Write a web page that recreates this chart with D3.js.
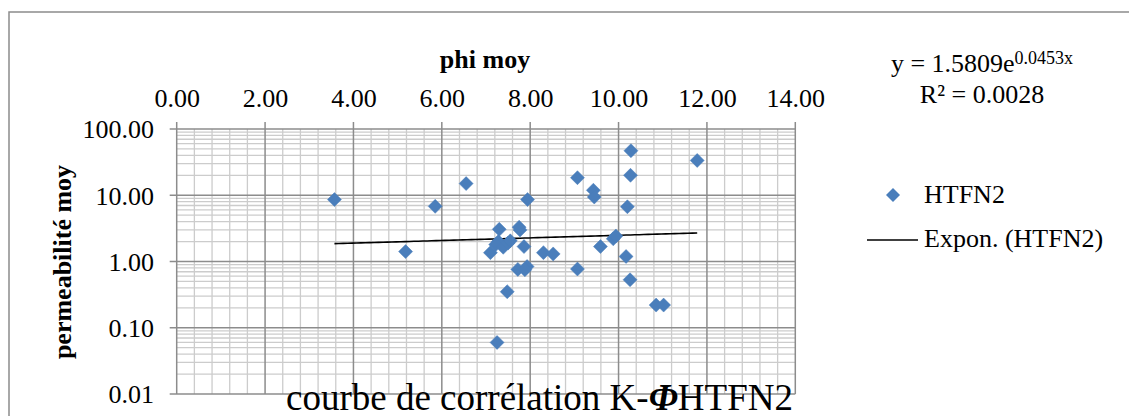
<!DOCTYPE html>
<html>
<head>
<meta charset="utf-8">
<script src="https://cdn.jsdelivr.net/npm/d3@7"></script>
<style>
html,body{margin:0;padding:0;background:#fff;}
svg{display:block;font-family:"Liberation Serif","Times New Roman",serif;}
</style>
</head>
<body>
<svg id="c" width="1129" height="416"></svg>
<script>
const phi  = [3.57,5.18,5.85,6.55,7.10,7.25,7.30,7.28,7.22,7.39,7.50,7.55,7.48,7.75,7.77,7.86,7.72,7.93,7.88,7.94,8.30,8.52,9.07,9.07,9.43,9.45,9.59,9.88,9.94,10.17,10.20,10.26,10.27,10.28,10.85,11.02,11.78];
const perm = [8.6,1.41,6.8,15,1.36,0.06,3.06,2.0,1.8,1.64,1.9,2.05,0.35,3.3,3.0,1.68,0.76,0.84,0.75,8.6,1.36,1.30,18.4,0.77,11.9,9.4,1.68,2.2,2.43,1.19,6.7,0.53,20,47,0.22,0.22,33.5];
const xTicks = [0,2,4,6,8,10,12,14];
const yTicks = [0.01,0.1,1,10,100];
const fitA = 1.5809, fitB = 0.0453;
const seriesName = "HTFN2";

const svg = d3.select("#c");
const x = d3.scaleLinear().domain([0,14]).range([176.7,795.3]);
const y = d3.scaleLog().domain([0.01,100]).range([394,129]);

// border
svg.append("rect").attr("x",9).attr("y",12).attr("width",1200).attr("height",500)
  .attr("fill","none").attr("stroke","#8c8c8c").attr("stroke-width",1.5);

const g = svg.append("g");
// minor vertical gridlines
const xMinor = d3.range(0,14.0001,0.4).filter(v=>Math.abs(v/2-Math.round(v/2))>1e-6);
g.selectAll(".vmin").data(xMinor).enter().append("line")
  .attr("x1",d=>x(d)).attr("x2",d=>x(d)).attr("y1",y(100)).attr("y2",y(0.01))
  .attr("stroke","#cccccc").attr("stroke-width",1.3);
// minor horizontal
const yMinor = [];
[0.01,0.1,1,10].forEach(dec=>{for(let k=2;k<=9;k++) yMinor.push(dec*k);});
g.selectAll(".hmin").data(yMinor).enter().append("line")
  .attr("x1",x(0)).attr("x2",x(14)).attr("y1",d=>y(d)).attr("y2",d=>y(d))
  .attr("stroke","#cccccc").attr("stroke-width",1.3);
// major
g.selectAll(".vmaj").data(xTicks).enter().append("line")
  .attr("x1",d=>x(d)).attr("x2",d=>x(d)).attr("y1",y(100)-7).attr("y2",y(0.01))
  .attr("stroke","#8c8c8c").attr("stroke-width",1.5);
g.selectAll(".hmaj").data(yTicks).enter().append("line")
  .attr("x1",x(0)-7).attr("x2",x(14)).attr("y1",d=>y(d)).attr("y2",d=>y(d))
  .attr("stroke","#8c8c8c").attr("stroke-width",1.5);

// axes labels via d3 axes
const xAxis = d3.axisTop(x).tickValues(xTicks).tickFormat(d3.format(".2f")).tickSize(0).tickPadding(0);
const xa = svg.append("g").attr("transform","translate(0,106.5)").call(xAxis);
xa.select(".domain").remove();
xa.selectAll("text").attr("font-size",26).attr("fill","#000").attr("font-family","Liberation Serif").attr("dy",0);

const yAxis = d3.axisLeft(y).tickValues(yTicks).tickFormat(d3.format(".2f")).tickSize(0).tickPadding(0);
const ya = svg.append("g").attr("transform","translate(154,0)").call(yAxis);
ya.select(".domain").remove();
ya.selectAll("text").attr("font-size",26).attr("fill","#000").attr("font-family","Liberation Serif").attr("dy","0.34em");

// trendline
const tx = d3.range(d3.min(phi), d3.max(phi)+0.001, 0.1);
tx.push(d3.max(phi));
const line = d3.line().x(d=>x(d)).y(d=>y(fitA*Math.exp(fitB*d)));
svg.append("path").datum(tx).attr("d",line).attr("fill","none").attr("stroke","#000").attr("stroke-width",1.6);

// points
const sym = d3.symbol().type(d3.symbolDiamond2 || d3.symbolDiamond).size(100);
const diamond = s => `M0,${-s}L${s},0L0,${s}L${-s},0Z`;
svg.selectAll(".pt").data(phi.map((p,i)=>[p,perm[i]])).enter().append("path")
  .attr("d",diamond(7)).attr("transform",d=>`translate(${x(d[0])},${y(d[1])})`)
  .attr("fill","#4a7ebb").attr("stroke","#4a7ebb").attr("stroke-width",0.5);

// axis titles
svg.append("text").attr("x",485).attr("y",68).attr("text-anchor","middle")
  .attr("font-size",26).attr("font-weight","bold").text("phi moy");
svg.append("text").attr("transform","translate(71,262) rotate(-90)").attr("text-anchor","middle")
  .attr("font-size",26).attr("font-weight","bold").text("permeabilité moy");

// equation
const eq = svg.append("text").attr("x",982).attr("y",71.7).attr("text-anchor","middle").attr("font-size",26);
eq.append("tspan").text("y = 1.5809e");
eq.append("tspan").attr("font-size",18).attr("dy",-8).text("0.0453x");
svg.append("text").attr("x",982).attr("y",103).attr("text-anchor","middle").attr("font-size",26).text("R² = 0.0028");

// legend
svg.append("path").attr("d",diamond(7)).attr("transform","translate(893,195)").attr("fill","#4a7ebb");
svg.append("text").attr("x",924).attr("y",203).attr("font-size",26).text(seriesName);
svg.append("line").attr("x1",867).attr("x2",918).attr("y1",240).attr("y2",240).attr("stroke","#000").attr("stroke-width",1.6);
svg.append("text").attr("x",924).attr("y",247).attr("font-size",26).text("Expon. (" + seriesName + ")");

// title
const t = svg.append("text").attr("x",286).attr("y",409.5).attr("font-size",37);
t.append("tspan").text("courbe de corrélation K-");
t.append("tspan").attr("font-weight","bold").attr("font-style","italic").text("Φ");
t.append("tspan").text("HTFN2");
</script>
</body>
</html>
